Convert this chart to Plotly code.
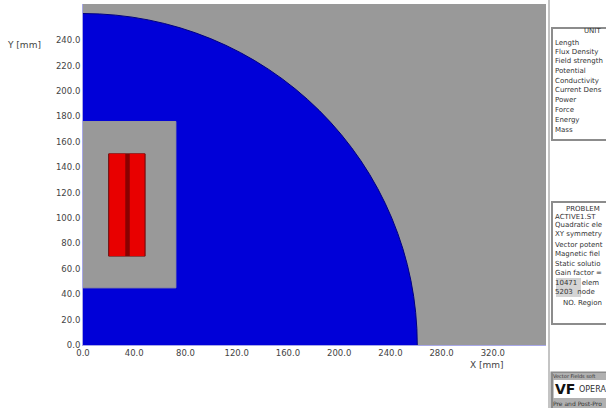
import plotly.graph_objects as go

W, H = 606, 408
L, R, T, B = 83, 546, 4, 345

x_ticks = [0, 40, 80, 120, 160, 200, 240, 280, 320]
x_labels = ["0.0", "40.0", "80.0", "120.0", "160.0", "200.0", "240.0", "280.0", "320.0"]
y_ticks = [0, 20, 40, 60, 80, 100, 120, 140, 160, 180, 200, 220, 240]
y_labels = ["0.0", "20.0", "40.0", "60.0", "80.0", "100.0", "120.0", "140.0", "160.0", "180.0", "200.0", "220.0", "240.0"]
x_range = [0, 361.5]
y_range = [0, 268.5]

air_radius = 261
box_x = [0, 72.5, 72.5, 0, 0]
box_y = [45, 45, 176, 176, 45]
coil_x = [20, 48.5, 48.5, 20, 20]
coil1_x = [20.5, 33, 33, 20.5, 20.5]
coil2_x = [36.5, 48, 48, 36.5, 36.5]
coil_y = [70, 70, 150.5, 150.5, 70]

units_title = "UNIT"
units = ["Length", "Flux Density", "Field strength", "Potential", "Conductivity",
         "Current Dens", "Power", "Force", "Energy", "Mass"]
units_y = [43, 52, 61, 71, 81, 90, 100, 110, 120, 130]
problem = ["PROBLEM", "ACTIVE1.ST", "Quadratic ele", "XY symmetry",
           "Vector potent", "Magnetic fiel", "Static solutio", "Gain factor =",
           "10471  elem", "5203  node", "NO. Region"]
problem_y = [209, 217, 225, 234, 245, 254, 264, 273, 283, 292, 303]


def px(v):
    return (v - L) / (R - L)


def py(v):
    return (B - v) / (B - T)


fig = go.Figure()
fig.add_trace(go.Scatter(x=box_x, y=box_y, fill="toself", mode="lines", fillcolor="#999999",
                         line=dict(color="#999999", width=1), hoverinfo="skip"))
fig.add_trace(go.Scatter(x=coil_x, y=coil_y, fill="toself", mode="lines", fillcolor="#8a0000",
                         line=dict(color="#701010", width=1), hoverinfo="skip"))
fig.add_trace(go.Scatter(x=coil1_x, y=coil_y, fill="toself", mode="lines", fillcolor="#e80000",
                         line=dict(color="#e80000", width=0), hoverinfo="skip"))
fig.add_trace(go.Scatter(x=coil2_x, y=coil_y, fill="toself", mode="lines", fillcolor="#e80000",
                         line=dict(color="#e80000", width=0), hoverinfo="skip"))

shapes = [
    dict(type="circle", xref="x", yref="y", layer="below",
         x0=-air_radius, x1=air_radius, y0=-air_radius, y1=air_radius,
         fillcolor="#0000d8", line=dict(color="#000080", width=1)),
]
grey = "#8c8c8c"
for x0, y0, x1, y1, w in [(552, 28, 620, 140, 2), (552, 202, 620, 324, 2), (552, 373, 620, 420, 3)]:
    shapes.append(dict(type="rect", xref="paper", yref="paper", x0=px(x0), x1=px(x1), y0=py(y0), y1=py(y1),
                       fillcolor="white", line=dict(color=grey, width=w), layer="above"))
shapes.append(dict(type="line", xref="paper", yref="paper", x0=px(549), x1=px(549), y0=py(0), y1=py(408),
                   line=dict(color="#c4c4c4", width=2)))
shapes.append(dict(type="rect", xref="paper", yref="paper", x0=px(553), x1=px(620), y0=py(373), y1=py(380),
                   fillcolor="#b0b0b0", line=dict(width=0)))
shapes.append(dict(type="rect", xref="paper", yref="paper", x0=px(553), x1=px(620), y0=py(398), y1=py(408),
                   fillcolor="#b0b0b0", line=dict(width=0)))
shapes.append(dict(type="rect", xref="paper", yref="paper", x0=px(556), x1=px(581), y0=py(278), y1=py(297),
                   fillcolor="#d4d4d4", line=dict(width=0)))

ann = []


def txt(x, y, s, size=7, anchor="left", color="#333333", bold=False):
    ann.append(dict(xref="paper", yref="paper", x=px(x), y=py(y), text=f"<b>{s}</b>" if bold else s, showarrow=False,
                    xanchor=anchor, yanchor="middle", font=dict(size=size, color=color), align="left",
                    borderpad=0, borderwidth=0))


txt(24, 45, "Y [mm]", 9, "center", "#444444")
txt(487, 365, "X [mm]", 9, "center", "#444444")
txt(584, 31, units_title, 7)
for s, y in zip(units, units_y):
    txt(555, y, s, 7)
txt(566, 209, problem[0], 7)
for s, y in zip(problem[1:-1], problem_y[1:-1]):
    txt(555, y, s, 7)
txt(563, problem_y[-1], problem[-1], 7)
txt(553, 376, "Vector Fields soft", 5)
txt(555, 389, "VF", 14, color="#111111", bold=True)
txt(579, 390, "OPERA", 8)
txt(553, 403, "Pre and Post-Pro", 6)

fig.update_layout(
    width=W, height=H, autosize=False, showlegend=False,
    margin=dict(l=L, r=W - R, t=T, b=H - B, pad=0),
    paper_bgcolor="white", plot_bgcolor="#999999",
    font=dict(family="DejaVu Sans", size=9, color="#444444"),
    shapes=shapes, annotations=ann,
    xaxis=dict(range=x_range, tickmode="array", tickvals=x_ticks, ticktext=x_labels, showgrid=False,
               zeroline=False, showline=True, linecolor="#a8a8e8", linewidth=1, ticks="", ticklen=0,
               tickfont=dict(size=8.5), fixedrange=True),
    yaxis=dict(range=y_range, tickmode="array", tickvals=y_ticks, ticktext=y_labels, showgrid=False,
               zeroline=False, showline=True, linecolor="#a8a8e8", linewidth=1, ticks="", ticklen=0,
               tickfont=dict(size=8.5), fixedrange=True),
)
fig.write_html("out.html", config=dict(displayModeBar=False),
               post_script="document.body.style.margin='0';document.body.style.overflow='hidden';")
